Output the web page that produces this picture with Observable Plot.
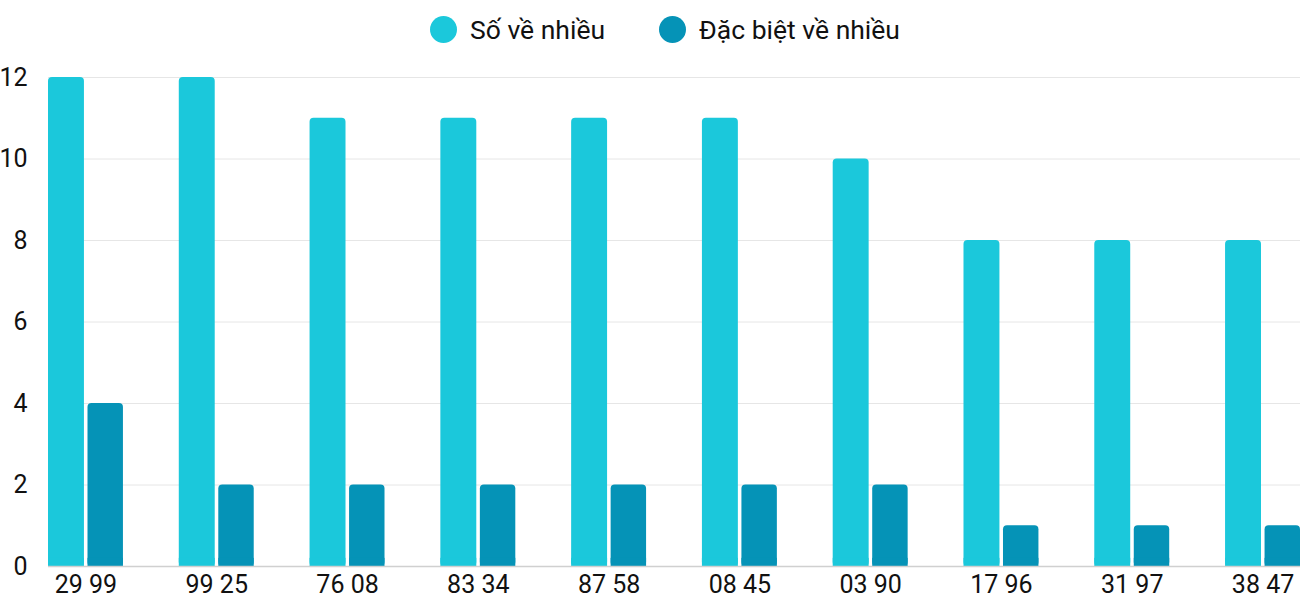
<!DOCTYPE html>
<html>
<head>
<meta charset="utf-8">
<script src="https://cdn.jsdelivr.net/npm/d3@7"></script>
<script src="https://cdn.jsdelivr.net/npm/@observablehq/plot@0.6"></script>
<style>
  html, body { margin: 0; padding: 0; background: #fff; }
  body { width: 1300px; height: 600px; overflow: hidden; font-family: Roboto, "Noto Sans", sans-serif; }
  #legend { height: 58px; display: flex; justify-content: center; align-items: center; padding-left: 30px; box-sizing: border-box; font-size: 26.5px; color: #111; }
  .item { display: flex; align-items: center; margin: 0 27px; }
  .dot { width: 27px; height: 27px; border-radius: 50%; margin-right: 13px; }
  #chart svg { display: block; }
</style>
</head>
<body>
<div id="legend"></div>
<div id="chart"></div>
<script>
const categories = ["29 99", "99 25", "76 08", "83 34", "87 58", "08 45", "03 90", "17 96", "31 97", "38 47"];
const soVeNhieu = [12, 12, 11, 11, 11, 11, 10, 8, 8, 8];
const dacBietVeNhieu = [4, 2, 2, 2, 2, 2, 2, 1, 1, 1];
const seriesNames = ["Số về nhiều", "Đặc biệt về nhiều"];
const colors = ["#1bc8db", "#0593b7"];
const yTicks = [0, 2, 4, 6, 8, 10, 12];

const legend = document.getElementById("legend");
seriesNames.forEach((n, i) => {
  const it = document.createElement("div");
  it.className = "item";
  it.innerHTML = `<span class="dot" style="background:${colors[i]}"></span><span>${n}</span>`;
  legend.appendChild(it);
});

const data = categories.map((c, i) => ({cat: c, a: soVeNhieu[i], b: dacBietVeNhieu[i]}));

const chart = Plot.plot({
  width: 1300,
  height: 542,
  marginTop: 19,
  marginBottom: 34,
  marginLeft: 48,
  marginRight: 0,
  style: {fontFamily: "Roboto, sans-serif", fontSize: "26px", color: "#111", background: "#fff"},
  x: {domain: categories, paddingInner: 0.427, paddingOuter: 0, round: false, label: null},
  y: {domain: [0, 12], ticks: yTicks, label: null},
  marks: [
    Plot.gridY(yTicks.filter(d => d > 0), {stroke: "#e6e6e6", strokeOpacity: 1, strokeWidth: 1}),
    Plot.barY(data, {x: "cat", y: "a", fill: colors[0], insetRight: 39, rx: 4}),
    Plot.barY(data, {x: "cat", y1: 0, y2: d => Math.min(d.a, 0.2), fill: colors[0], insetRight: 39}),
    Plot.barY(data, {x: "cat", y: "b", fill: colors[1], insetLeft: 39.5, rx: 4}),
    Plot.barY(data, {x: "cat", y1: 0, y2: d => Math.min(d.b, 0.2), fill: colors[1], insetLeft: 39.5}),
    Plot.ruleY([0], {stroke: "#d0d0d0", strokeWidth: 1.5}),
    Plot.axisY({ticks: yTicks, tickSize: 0, tickPadding: 21, fontSize: 25, fill: "#111"}),
    Plot.axisX({tickSize: 0, tickPadding: 9, fontSize: 25, fill: "#111"})
  ]
});
document.getElementById("chart").appendChild(chart);
</script>
</body>
</html>
